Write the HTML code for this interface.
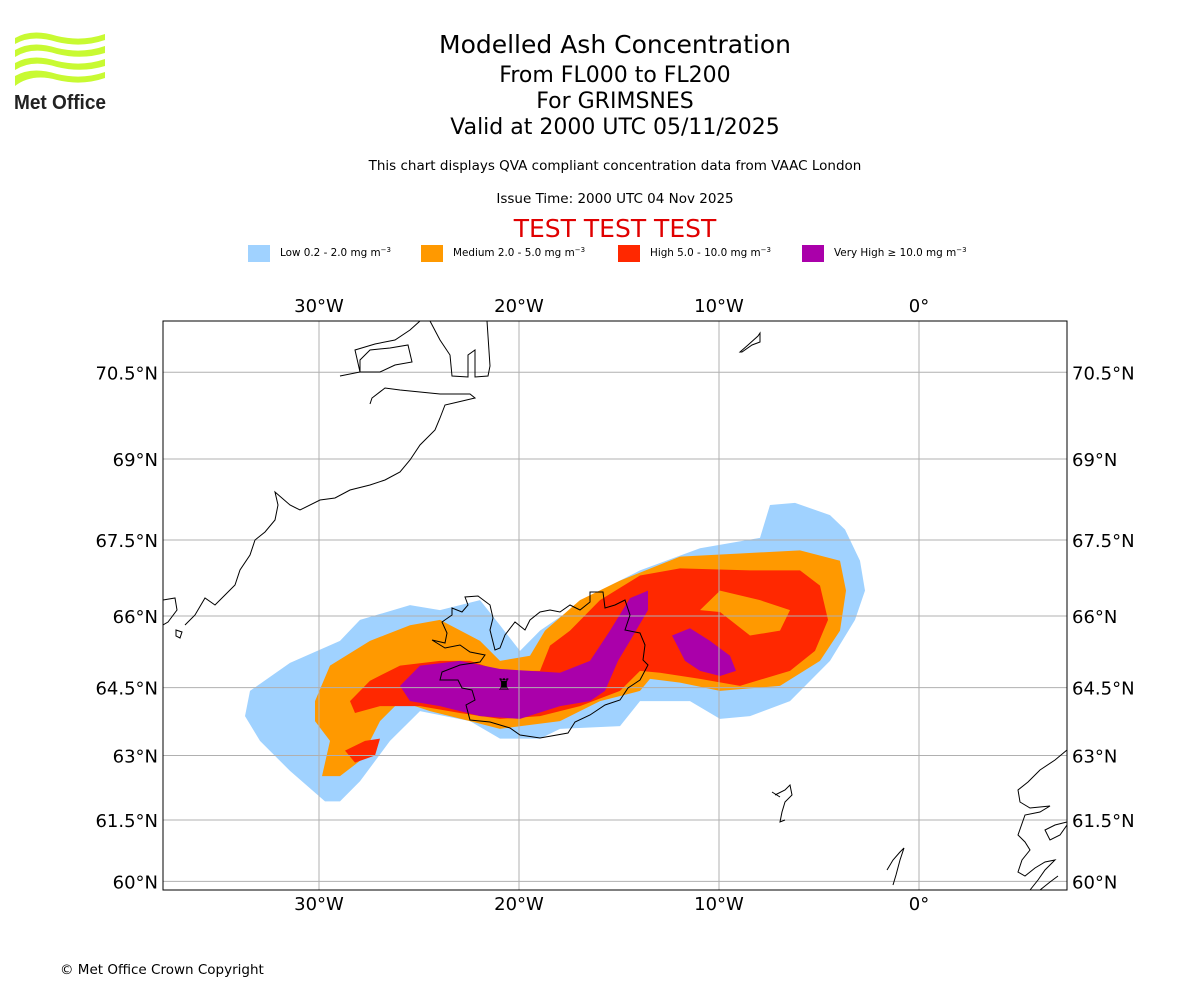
<!DOCTYPE html>
<html><head><meta charset="utf-8"><style>
body{margin:0;background:#fff;font-family:"DejaVu Sans","Liberation Sans",sans-serif;}
#wrap{position:relative;width:1200px;height:1000px;overflow:hidden;}
.t{position:absolute;left:0;width:1230px;text-align:center;color:#000;}
</style></head><body>
<div id="wrap">
<svg style="position:absolute;left:12px;top:28px" width="100" height="85" viewBox="0 0 100 85">
<path d="M3 10 Q20 0 45 8 Q70 14 93 6 L93 12 Q70 20 45 14 Q20 6 3 16Z" fill="#c8fa32"/>
<path d="M3 22 Q20 12 45 20 Q70 26 93 18 L93 25 Q70 32 45 26 Q20 18 3 29Z" fill="#c8fa32"/>
<path d="M3 35 Q20 25 45 33 Q70 39 93 31 L93 38 Q70 45 45 39 Q20 31 3 42Z" fill="#c8fa32"/>
<path d="M3 48 Q20 38 45 46 Q70 52 93 44 L93 50 Q70 58 45 52 Q20 45 3 58Z" fill="#c8fa32"/>
<text x="2" y="81" font-family="Liberation Sans" font-weight="bold" font-size="20" fill="#222" textLength="92" lengthAdjust="spacingAndGlyphs">Met Office</text>
</svg>
<div class="t" style="top:30px;font-size:25px">Modelled Ash Concentration</div>
<div class="t" style="top:63px;font-size:22px">From FL000 to FL200</div>
<div class="t" style="top:89px;font-size:22px">For GRIMSNES</div>
<div class="t" style="top:115px;font-size:22px">Valid at 2000 UTC 05/11/2025</div>
<div class="t" style="top:158px;font-size:13.5px">This chart displays QVA compliant concentration data from VAAC London</div>
<div class="t" style="top:191px;font-size:13.5px">Issue Time: 2000 UTC 04 Nov 2025</div>
<div class="t" style="top:214px;font-size:25px;color:#e00000">TEST TEST TEST</div>
<svg style="position:absolute;left:0;top:240px" width="1200" height="30" font-size="10.4">
<rect x="248" y="5" width="22" height="17" fill="#a0d2ff"/><text x="280" y="16">Low 0.2 - 2.0 mg m<tspan dy="-4" font-size="7">−3</tspan></text>
<rect x="421" y="5" width="22" height="17" fill="#ff9900"/><text x="453" y="16">Medium 2.0 - 5.0 mg m<tspan dy="-4" font-size="7">−3</tspan></text>
<rect x="618" y="5" width="22" height="17" fill="#ff2800"/><text x="650" y="16">High 5.0 - 10.0 mg m<tspan dy="-4" font-size="7">−3</tspan></text>
<rect x="802" y="5" width="22" height="17" fill="#aa00aa"/><text x="834" y="16">Very High  ≥  10.0 mg m<tspan dy="-4" font-size="7">−3</tspan></text>
</svg>
<svg id="map" style="position:absolute;left:0;top:0" width="1200" height="1000"></svg>
<div style="position:absolute;left:60px;top:962px;font-size:13.5px">© Met Office Crown Copyright</div>
</div>
<script>
const lonTicks=[-30,-20,-10,0];
const lonLabels=["30°W","20°W","10°W","0°"];
const latTicks=[60,61.5,63,64.5,66,67.5,69,70.5];
const latLabels=["60°N","61.5°N","63°N","64.5°N","66°N","67.5°N","69°N","70.5°N"];
const lowBand=[[-33.7,63.88],[-33.45,64.43],[-31.45,65.03],[-28.95,65.49],[-27.95,65.92],[-25.45,66.22],[-23.95,66.12],[-21.95,66.32],[-20.95,65.81],[-19.95,65.28],[-18.95,65.7],[-17.45,66.12],[-15.95,66.51],[-13.95,66.91],[-10.95,67.34],[-7.95,67.54],[-7.45,68.16],[-6.2,68.2],[-4.45,67.97],[-3.7,67.7],[-2.95,67.1],[-2.7,66.51],[-3.2,65.92],[-4.45,65.07],[-6.45,64.21],[-8.45,63.88],[-9.95,63.82],[-11.45,64.21],[-13.95,64.21],[-14.95,63.66],[-17.95,63.6],[-18.95,63.38],[-20.95,63.38],[-22.45,63.77],[-24.95,63.99],[-26.45,63.33],[-27.95,62.41],[-28.95,61.94],[-29.7,61.94],[-31.45,62.65],[-32.95,63.33]];
const mediumBand=[[-30.2,64.21],[-29.45,64.97],[-27.45,65.49],[-25.45,65.81],[-23.95,65.92],[-21.95,65.49],[-20.95,65.07],[-19.45,65.18],[-18.7,65.7],[-16.95,66.32],[-14.95,66.71],[-11.95,67.18],[-8.95,67.24],[-5.95,67.3],[-3.95,67.1],[-3.65,66.51],[-3.95,65.7],[-4.95,65.07],[-6.95,64.54],[-9.95,64.43],[-11.95,64.61],[-13.45,64.69],[-13.95,64.43],[-15.95,64.21],[-17.95,63.77],[-20.95,63.6],[-22.45,63.77],[-24.45,63.99],[-25.95,64.21],[-26.95,63.77],[-27.95,62.88],[-28.95,62.53],[-29.85,62.53],[-29.45,63.33],[-30.2,63.77]];
const highBand=[[-28.45,64.21],[-27.45,64.65],[-25.95,64.97],[-23.95,65.07],[-22.45,65.07],[-20.95,64.86],[-18.95,64.86],[-18.45,65.39],[-17.45,65.7],[-15.95,66.32],[-13.95,66.81],[-11.95,66.95],[-8.45,66.91],[-5.95,66.91],[-4.95,66.61],[-4.55,65.92],[-5.2,65.28],[-6.45,64.86],[-8.95,64.54],[-10.95,64.69],[-12.95,64.82],[-13.95,64.86],[-14.95,64.43],[-16.95,64.1],[-18.95,63.88],[-20.95,63.82],[-22.95,63.95],[-24.95,64.1],[-26.95,64.1],[-28.2,63.95]];
const highPatch=[[-28.7,63.11],[-27.7,63.33],[-26.95,63.38],[-27.2,63.0],[-28.2,62.84]];
const mediumHole=[[-10.95,66.12],[-9.95,66.51],[-7.95,66.32],[-6.45,66.12],[-6.95,65.7],[-8.45,65.6],[-9.95,66.08]];
const veryHighBand=[[-25.95,64.54],[-24.95,64.97],[-22.95,65.07],[-20.95,64.9],[-17.95,64.82],[-16.45,65.07],[-15.45,65.7],[-14.45,66.36],[-13.55,66.51],[-13.55,66.12],[-14.45,65.49],[-15.05,65.07],[-15.7,64.43],[-16.45,64.21],[-17.95,64.1],[-19.95,63.82],[-21.95,63.88],[-23.95,64.1],[-25.45,64.21]];
const veryHighPatch=[[-12.35,65.6],[-11.45,65.75],[-10.45,65.49],[-9.45,65.18],[-9.15,64.86],[-9.95,64.75],[-10.95,64.86],[-11.7,65.07]];

const L=163,R=1067,T=321,B=890;
function merc(lat){const p=lat*Math.PI/180;return Math.log(Math.tan(Math.PI/4+p/2));}
function xs(lon){return 919+lon*20;}
function ys(lat){return 616-1146*(merc(lat)-merc(66));}
const NS='http://www.w3.org/2000/svg';
const svg=document.getElementById('map');
function mk(tag,at){const e=document.createElementNS(NS,tag);for(const k in at)e.setAttribute(k,at[k]);svg.appendChild(e);return e;}
const clip=document.createElementNS(NS,'clipPath');clip.setAttribute('id','c');
const cr=document.createElementNS(NS,'rect');cr.setAttribute('x',L);cr.setAttribute('y',T);cr.setAttribute('width',R-L);cr.setAttribute('height',B-T);clip.appendChild(cr);svg.appendChild(clip);
function poly(arr,fill,name){const e=mk('polygon',{points:arr.map(p=>xs(p[0])+','+ys(p[1])).join(' '),fill:fill,'clip-path':'url(#c)'});

}
poly(lowBand,'#a0d2ff','ash-low');
poly(mediumBand,'#ff9900','ash-medium');
poly(highBand,'#ff2800','ash-high');
poly(highPatch,'#ff2800','ash-high-patch');
poly(mediumHole,'#ff9900','ash-medium-east');
poly(veryHighBand,'#aa00aa','ash-very-high');
poly(veryHighPatch,'#aa00aa','ash-very-high-east');
lonTicks.forEach((v,i)=>{
 const g=mk('line',{x1:xs(v),x2:xs(v),y1:T,y2:B,stroke:'#b0b0b0','stroke-width':1});
 
 
 [T-9,B+20].forEach(y=>{const t=mk('text',{x:xs(v),y:y,'text-anchor':'middle','font-size':18});t.textContent=lonLabels[i];
 
 });
});
latTicks.forEach((v,i)=>{
 const g=mk('line',{x1:L,x2:R,y1:ys(v),y2:ys(v),stroke:'#b0b0b0','stroke-width':1});
 
 
 const a=mk('text',{x:L-5,y:ys(v)+7,'text-anchor':'end','font-size':18});a.textContent=latLabels[i];
 
 
 const b=mk('text',{x:R+5,y:ys(v)+7,'text-anchor':'start','font-size':18});b.textContent=latLabels[i];
 
 
});
const coasts=[
"M163,600 L175,598 L177,610 L168,622 L163,625 M176,630 L182,632 L180,638 L176,636Z M185,625 L195,615 L205,598 L215,605 L225,595 L235,585 L240,570 L250,555 L255,540 L265,532 L275,520 L278,505 L275,492 L290,505 L300,510 L320,500 L335,498 L350,490 L370,485 L385,480 L400,472 L410,460 L420,445 L435,430 L440,418 L445,405 L458,402 L475,398 L470,394 L440,394 L420,392 L400,390 L385,388 L372,398 L370,404",
"M340,376 L360,372 L355,350 L375,344 L395,340 L410,330 L420,321 M360,372 L380,372 L395,365 L412,362 L408,345 L390,348 L370,350 L360,360Z",
"M430,321 L440,340 L450,355 L452,376 L468,377 L468,355 L475,350 L475,377 L488,376 L490,366 L487,321",
"M740,352 L748,345 L758,336 L760,333 L760,342 L752,345 L742,352Z",
"M432,640 L445,643 L447,633 L442,622 L452,615 L452,608 L462,612 L468,605 L465,597 L478,596 L490,605 L493,618 L490,630 L495,650 L500,648 L505,635 L515,622 L525,630 L530,620 L540,612 L550,610 L560,612 L570,605 L580,610 L590,602 L590,592 L603,592 L605,608 L615,605 L625,600 L630,615 L625,630 L640,633 L645,645 L643,660 L648,665 L640,680 L628,688 L620,700 L605,705 L590,715 L575,722 L568,733 L540,738 L520,735 L510,728 L490,722 L470,720 L466,705 L475,700 L472,690 L462,688 L458,680 L440,680 L442,672 L460,665 L480,662 L485,655 L470,652 L460,645 L445,648 L432,640",
"M775,795 L785,790 L790,785 L792,795 L785,802 L782,812 L780,822 L785,820 M772,792 L780,797",
"M887,870 L893,860 L900,852 L904,848 L900,860 L896,875 L893,885",
"M1067,750 L1055,760 L1040,770 L1028,782 L1018,790 L1020,802 L1030,808 L1050,806 L1040,812 L1025,815 L1018,835 L1025,842 L1030,850 L1022,860 L1018,872 L1025,876 L1035,868 L1045,862 L1055,860 L1045,870 L1038,880 L1030,890 M1040,890 L1050,882 L1058,876 M1067,825 L1060,835 L1050,840 L1045,830 L1055,825 L1067,822"
];
coasts.forEach(d=>{const e=mk('path',{d:d,fill:'none',stroke:'#000','stroke-width':1,'clip-path':'url(#c)'});

});
const v=mk('text',{x:xs(-20.75),y:ys(64.45),'text-anchor':'middle','font-size':16,'font-weight':'bold'});v.textContent='♜';


const fr=mk('rect',{x:L,y:T,width:R-L,height:B-T,fill:'none',stroke:'#000','stroke-width':1});


</script>
</body></html>
